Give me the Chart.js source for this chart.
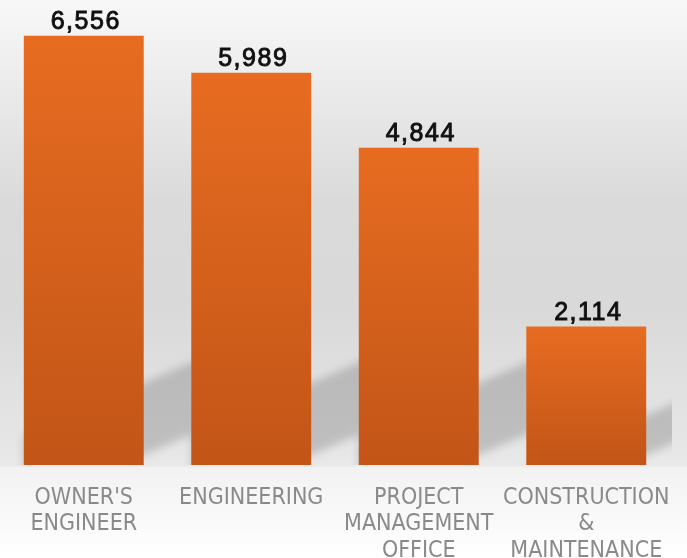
<!DOCTYPE html>
<html>
<head>
<meta charset="utf-8">
<script src="https://cdn.jsdelivr.net/npm/chart.js@4"></script>
<style>
  html, body { margin: 0; padding: 0; background: #fff; }
  #wrap { width: 687px; height: 558px; position: relative; }
</style>
</head>
<body>
<div id="wrap"><canvas id="chart"></canvas></div>
<script>
const categories = [
    ["OWNER'S", "ENGINEER"],
    ["ENGINEERING"],
    ["PROJECT", "MANAGEMENT", "OFFICE"],
    ["CONSTRUCTION", "&", "MAINTENANCE"]
];
const values = [6556, 5989, 4844, 2114];
const yMax = 7100;

// wall / floor backdrop
const backdrop = {
    id: 'backdrop',
    beforeDraw(chart) {
        const { ctx, width, height } = chart;
        const g = ctx.createLinearGradient(0, 0, 0, height);
        g.addColorStop(0, '#f8f8f8');
        g.addColorStop(0.36, '#dadada');
        g.addColorStop(0.55, '#d9d9d9');
        g.addColorStop(0.8, '#e6e6e6');
        g.addColorStop(0.835, '#e9e9e9');
        g.addColorStop(0.838, '#f2f2f2');
        g.addColorStop(1, '#ffffff');
        ctx.save();
        ctx.fillStyle = g;
        ctx.fillRect(0, 0, width, height);
        ctx.restore();
    }
};

// slanted soft shadow behind each bar
const barShadow = {
    id: 'barShadow',
    beforeDatasetsDraw(chart) {
        const { ctx, chartArea } = chart;
        const meta = chart.getDatasetMeta(0);
        ctx.save();
        ctx.beginPath();
        ctx.rect(0, 0, chartArea.right + 2, chartArea.bottom);
        ctx.clip();
        ctx.filter = 'blur(4px)';
        ctx.fillStyle = 'rgba(0,0,0,0.17)';
        meta.data.forEach(bar => {
            const xl = bar.x - bar.width / 2;
            const xr = bar.x + bar.width / 2;
            const h = bar.base - bar.y;
            const t = 72 * Math.min(1, h / 250);
            const s = 0.43;
            const x1 = xl, x2 = xr + 60;
            const yb = x => bar.base - 10 - (x - xr) * s;
            ctx.beginPath();
            ctx.moveTo(x1, yb(x1));
            ctx.lineTo(x2, yb(x2));
            ctx.lineTo(x2, yb(x2) - t);
            ctx.lineTo(x1, yb(x1) - t);
            ctx.closePath();
            ctx.fill();
        });
        ctx.restore();
    }
};

const valueLabels = {
    id: 'valueLabels',
    afterDatasetsDraw(chart) {
        const { ctx } = chart;
        const meta = chart.getDatasetMeta(0);
        ctx.save();
        ctx.font = '25px "Liberation Sans", Arial, sans-serif';
        ctx.letterSpacing = '1.5px';
        ctx.fillStyle = '#111';
        ctx.strokeStyle = '#111';
        ctx.lineWidth = 0.9;
        ctx.textAlign = 'center';
        ctx.textBaseline = 'alphabetic';
        meta.data.forEach((bar, i) => {
            const txt = values[i].toLocaleString('en-US');
            ctx.fillText(txt, bar.x + 2, bar.y - 7);
            ctx.strokeText(txt, bar.x + 2, bar.y - 7);
        });
        ctx.restore();
    }
};

function barFill(context) {
    const chart = context.chart;
    if (!chart.chartArea) return '#d65f1b';
    const y = chart.scales.y;
    const top = y.getPixelForValue(values[context.dataIndex]);
    const base = y.getPixelForValue(0);
    const g = chart.ctx.createLinearGradient(0, top, 0, base);
    g.addColorStop(0, '#e76c21');
    g.addColorStop(1, '#c25517');
    return g;
}

new Chart(document.getElementById('chart'), {
    type: 'bar',
    data: {
        labels: categories,
        datasets: [{
            data: values,
            backgroundColor: barFill,
            borderWidth: 0,
            barPercentage: 0.716,
            categoryPercentage: 1
        }]
    },
    options: {
        responsive: true,
        maintainAspectRatio: false,
        animation: false,
        layout: { padding: { left: 0, right: 17, top: 0, bottom: 0 } },
        plugins: { legend: { display: false }, tooltip: { enabled: false } },
        scales: {
            y: { display: false, min: 0, max: yMax },
            x: {
                afterFit(scale) {
                    scale.height = 93;
                    scale.paddingLeft = 0;
                    scale.paddingRight = 0;
                },
                grid: { display: false, drawTicks: false },
                border: { display: false },
                ticks: {
                    color: '#8a8a8a',
                    padding: 20,
                    maxRotation: 0,
                    autoSkip: false,
                    font: { family: '"Liberation Sans Narrow", "DejaVu Sans Condensed", Arial, sans-serif', size: 23, lineHeight: 1.14 }
                }
            }
        }
    },
    plugins: [backdrop, barShadow, valueLabels]
});
</script>
</body>
</html>
